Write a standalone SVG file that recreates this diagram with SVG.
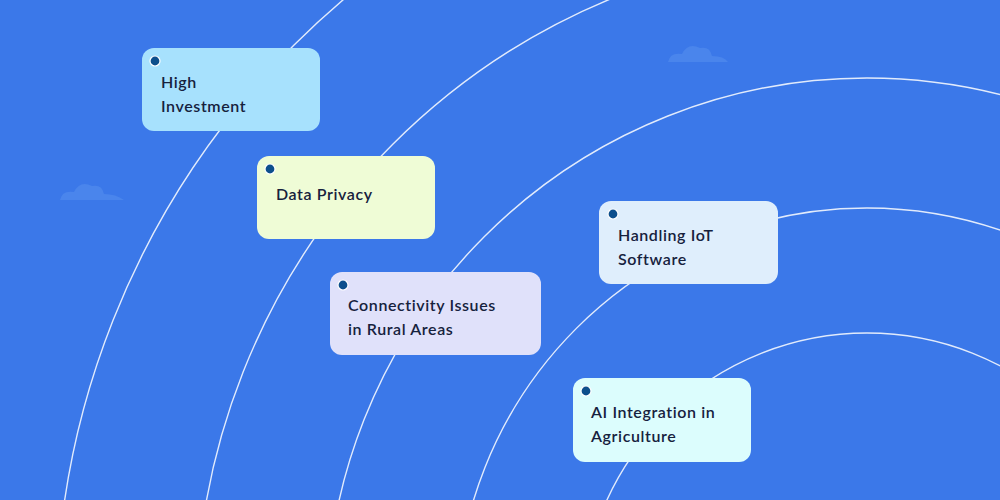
<svg xmlns="http://www.w3.org/2000/svg" width="1000" height="500" viewBox="0 0 1000 500">
<style>
.arc{fill:none;stroke:#fff;stroke-opacity:.85;stroke-width:1.4}
.card{stroke:none}
.t{font-family:Lato,"Open Sans",sans-serif;font-size:16px;font-weight:600;fill:#16213d;letter-spacing:.6px}
.dot{fill:#0d4f8c;stroke:#fff;stroke-width:1.2}
.cloud{fill:#4a85ec}
</style>
<rect width="1000" height="500" fill="#3b78e9"/>
<g id="clouds">
<path class="cloud" d="M668 62 q2-10 14-8 q6-12 18-6 q10-2 12 8 q12 0 16 6 z"/>
<path class="cloud" d="M60 200 q2-10 14-8 q6-12 18-6 q10-2 12 8 q12 0 20 6 z"/>
</g>
<g id="connectors">
<circle class="arc" cx="867" cy="619" r="286"/>
<circle class="arc" cx="867" cy="619" r="411"/>
<circle class="arc" cx="867" cy="619" r="541"/>
<circle class="arc" cx="867" cy="619" r="671"/>
<circle class="arc" cx="867" cy="619" r="811"/>
</g>
<g id="n1"><rect class="card" x="142" y="48" width="178" height="83" rx="12" fill="#a7e1fd"/><circle class="dot" cx="155" cy="61" r="5"/><text class="t" x="161" y="88">High</text><text class="t" x="161" y="112">Investment</text></g>
<g id="n2"><rect class="card" x="257" y="156" width="178" height="83" rx="12" fill="#effcd6"/><circle class="dot" cx="270" cy="169" r="5"/><text class="t" x="276" y="200">Data Privacy</text></g>
<g id="n3"><rect class="card" x="330" y="272" width="211" height="83" rx="12" fill="#e0e1fa"/><circle class="dot" cx="343" cy="285" r="5"/><text class="t" x="348" y="311">Connectivity Issues</text><text class="t" x="348" y="335">in Rural Areas</text></g>
<g id="n4"><rect class="card" x="599" y="201" width="179" height="83" rx="12" fill="#dfeefc"/><circle class="dot" cx="613" cy="214" r="5"/><text class="t" x="618" y="241">Handling IoT</text><text class="t" x="618" y="265">Software</text></g>
<g id="n5"><rect class="card" x="573" y="378" width="178" height="84" rx="12" fill="#dcfdfd"/><circle class="dot" cx="586" cy="391" r="5"/><text class="t" x="591" y="418">AI Integration in</text><text class="t" x="591" y="442">Agriculture</text></g>
</svg>
